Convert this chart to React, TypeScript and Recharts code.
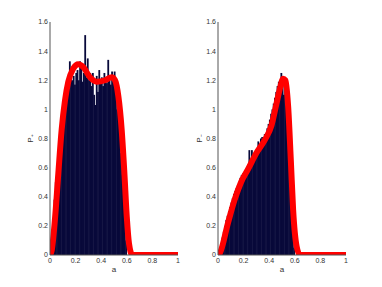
import { ComposedChart, Bar, Line, XAxis, YAxis } from "recharts";

// histogram bin centres (width 0.01)
const binCenters = [
  0.005, 0.015, 0.025, 0.035, 0.045, 0.055, 0.065, 0.075, 0.085, 0.095,
  0.105, 0.115, 0.125, 0.135, 0.145, 0.155, 0.165, 0.175, 0.185, 0.195,
  0.205, 0.215, 0.225, 0.235, 0.245, 0.255, 0.265, 0.275, 0.285, 0.295,
  0.305, 0.315, 0.325, 0.335, 0.345, 0.355, 0.365, 0.375, 0.385, 0.395,
  0.405, 0.415, 0.425, 0.435, 0.445, 0.455, 0.465, 0.475, 0.485, 0.495,
  0.505, 0.515, 0.525, 0.535, 0.545, 0.555, 0.565, 0.575, 0.585, 0.595,
];

const histPlus = [
  0.02, 0.1, 0.22, 0.38, 0.5, 0.6, 0.68, 0.78, 0.85, 0.92,
  0.98, 1.04, 1.1, 1.08, 1.2, 1.33, 1.22, 1.2, 1.23, 1.17,
  1.25, 1.27, 1.2, 1.33, 1.3, 1.19, 1.25, 1.51, 1.22, 1.35,
  1.2, 1.25, 1.16, 1.25, 1.1, 1.03, 1.23, 1.12, 1.27, 1.18,
  1.22, 1.16, 1.25, 1.2, 1.18, 1.34, 1.2, 1.17, 1.26, 1.2,
  1.26, 1.15, 1.0, 0.95, 0.85, 0.7, 0.55, 0.4, 0.25, 0.1,
];

const histMinus = [
  0, 0.03, 0.08, 0.12, 0.16, 0.2, 0.24, 0.27, 0.3, 0.33,
  0.36, 0.39, 0.42, 0.44, 0.46, 0.48, 0.5, 0.53, 0.55, 0.56,
  0.56, 0.58, 0.6, 0.62, 0.72, 0.64, 0.72, 0.66, 0.68, 0.7,
  0.72, 0.78, 0.76, 0.8, 0.81, 0.79, 0.83, 0.8, 0.87, 0.9,
  0.93, 0.97, 1.0, 1.04, 1.08, 1.12, 1.16, 1.19, 1.18, 1.25,
  1.2, 1.1, 1.18, 1.15, 1.12, 1.1, 0.85, 0.5, 0.2, 0.05,
];

// fitted curves
const curvePlusA = [0, 0.013, 0.04, 0.065, 0.091, 0.117, 0.143, 0.182, 0.221, 0.26, 0.3125, 0.365, 0.43, 0.482, 0.508, 0.534, 0.56, 0.58, 0.6, 0.617, 0.643, 0.7, 0.8, 0.9, 1];
const curvePlusP = [0, 0.03, 0.26, 0.56, 0.86, 1.06, 1.19, 1.28, 1.31, 1.29, 1.22, 1.19, 1.2, 1.22, 1.2, 1.09, 0.86, 0.58, 0.26, 0.08, 0, 0, 0, 0, 0];

const curveMinusA = [0, 0.013, 0.078, 0.13, 0.18, 0.235, 0.3, 0.366, 0.418, 0.457, 0.483, 0.509, 0.527, 0.548, 0.569, 0.587, 0.614, 0.64, 0.7, 0.8, 0.9, 1];
const curveMinusP = [0, 0.01, 0.22, 0.38, 0.5, 0.59, 0.7, 0.79, 0.89, 1.04, 1.14, 1.21, 1.2, 1.02, 0.65, 0.31, 0.06, 0, 0, 0, 0, 0];

const xTicks = [0, 0.2, 0.4, 0.6, 0.8, 1];
const yTicks = [0, 0.2, 0.4, 0.6, 0.8, 1, 1.2, 1.4, 1.6];

const font = "'Liberation Sans', Arial, sans-serif";
const tickStyle = { fontSize: 7, fill: "#333", fontFamily: font };

const toRows = (xs: number[], ys: number[]) => xs.map((a, i) => ({ a, p: ys[i] }));

// thin histogram bar, centred on its bin
const HistBar = (props: any) => {
  const { x, y, width, height } = props;
  if (!height || height <= 0) return null;
  const cx = x + width / 2;
  return <rect x={cx - 0.9} y={y} width={1.8} height={height} fill="#08093a" />;
};

function Panel({ hist, curveA, curveP, label, yWidth, right, labelOffset }: {
  hist: number[]; curveA: number[]; curveP: number[]; label: string;
  yWidth: number; right: number; labelOffset: number;
}) {
  return (
    <ComposedChart
      width={191}
      height={287}
      data={toRows(binCenters, hist)}
      margin={{ top: 22, right, bottom: 0, left: 0 }}
    >
      <XAxis
        type="number"
        dataKey="a"
        domain={[0, 1]}
        ticks={xTicks}
        tick={tickStyle}
        tickSize={0}
        tickMargin={3}
        height={32}
        stroke="#555"
        allowDataOverflow
        label={{ value: "a", position: "insideBottom", offset: 15, style: { fontSize: 8, fill: "#333", fontFamily: font } }}
      />
      <YAxis
        type="number"
        domain={[0, 1.6]}
        ticks={yTicks}
        tick={tickStyle}
        tickSize={0}
        tickMargin={2}
        width={yWidth}
        stroke="#555"
        allowDataOverflow
        label={{ value: label, angle: -90, position: "insideLeft", offset: labelOffset, style: { fontSize: 8, fill: "#333", fontFamily: font, textAnchor: "middle" } }}
      />
      <Bar dataKey="p" fill="#08093a" barSize={1.8} shape={HistBar} isAnimationActive={false} />
      <Line
        data={toRows(curveA, curveP)}
        dataKey="p"
        type="monotone"
        stroke="#ff0000"
        strokeWidth={6}
        dot={false}
        isAnimationActive={false}
      />
    </ComposedChart>
  );
}

export default function App() {
  return (
    <div style={{ position: "absolute", left: 0, top: 0, width: 382, height: 287, background: "#fff" }}>
      <div style={{ position: "absolute", left: 0, top: 0 }}>
        <Panel hist={histPlus} curveA={curvePlusA} curveP={curvePlusP} label="P₊" yWidth={50} right={13} labelOffset={30} />
      </div>
      <div style={{ position: "absolute", left: 191, top: 0 }}>
        <Panel hist={histMinus} curveA={curveMinusA} curveP={curveMinusP} label="P₋" yWidth={27} right={36} labelOffset={8} />
      </div>
    </div>
  );
}
